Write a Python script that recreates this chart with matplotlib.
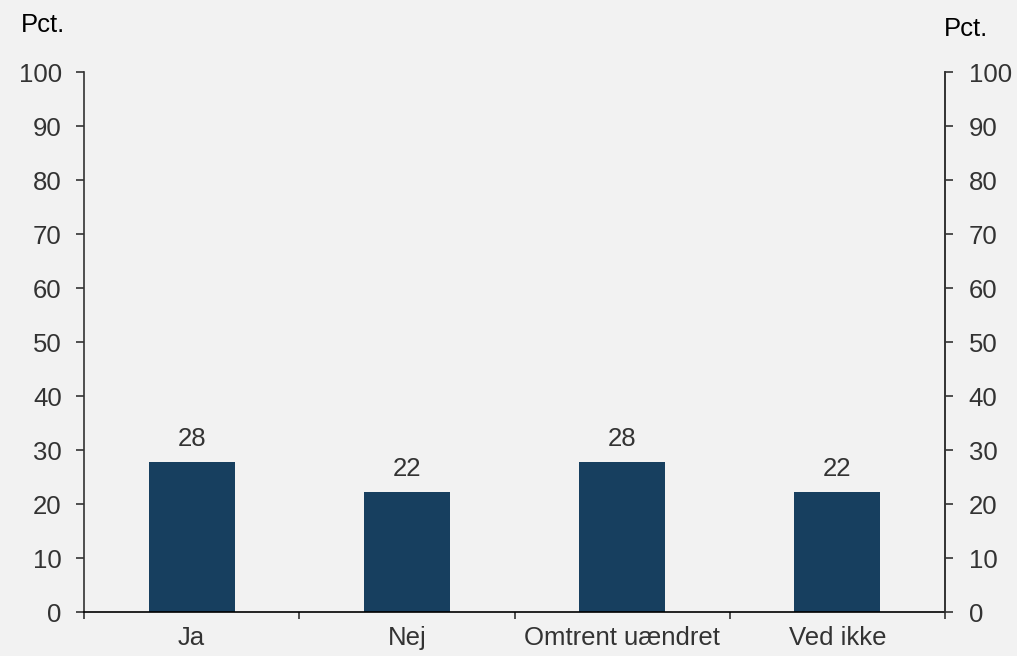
import matplotlib
matplotlib.use("Agg")
import matplotlib.pyplot as plt

plt.rcParams['font.family'] = ['Liberation Sans', 'DejaVu Sans']

categories = ["Ja", "Nej", "Omtrent uændret", "Ved ikke"]
values = [27.8, 22.2, 27.8, 22.2]
yticks = list(range(0, 101, 10))

bg = '#f2f2f2'
bar_color = '#173f5f'
dark = '#333333'
fs = 18.5

fig = plt.figure(figsize=(10.17, 6.56), dpi=100, facecolor=bg)
ax = fig.add_axes([84 / 1017, 44 / 656, 861 / 1017, 540 / 656])
ax.set_facecolor(bg)

x = range(len(categories))
bars = ax.bar(x, values, width=0.4, color=bar_color, zorder=2)
ax.bar_label(bars, labels=[f"{v:.0f}" for v in values], padding=8,
             fontsize=fs, color=dark)

ax.set_xlim(-0.5, len(categories) - 0.5)
ax.set_ylim(0, 100)
ax.set_yticks(yticks)
ax.set_xticks(list(x))
ax.set_xticklabels(categories)
# tick marks sit between the categories
ax.set_xticks([i - 0.5 for i in range(len(categories) + 1)], minor=True)

ax.spines['top'].set_visible(False)
for s in ['left', 'right', 'bottom']:
    ax.spines[s].set_color(dark)
    ax.spines[s].set_linewidth(1.2)
ax.spines['bottom'].set_color('black')

ax.tick_params(axis='x', which='major', length=0, pad=10, labelsize=fs, labelcolor=dark)
ax.tick_params(axis='x', which='minor', length=5, width=1.2, color=dark, direction='out')
ax.tick_params(axis='y', length=5.5, width=1.2, color=dark, direction='out',
               pad=10.5, labelsize=fs, labelcolor=dark)

ax2 = ax.twinx()
ax2.set_ylim(0, 100)
ax2.set_yticks(yticks)
for s in ['top', 'left', 'bottom']:
    ax2.spines[s].set_visible(False)
ax2.spines['right'].set_color(dark)
ax2.spines['right'].set_linewidth(1.2)
ax2.tick_params(axis='y', length=5.5, width=1.2, color=dark, direction='out',
                pad=11.5, labelsize=fs, labelcolor=dark)

fig.text(21 / 1017, 1 - 32 / 656, "Pct.", fontsize=fs, color='black',
         ha='left', va='baseline')
fig.text(944 / 1017, 1 - 36 / 656, "Pct.", fontsize=fs, color='black',
         ha='left', va='baseline')

fig.savefig("out.png", dpi=100, facecolor=bg)
